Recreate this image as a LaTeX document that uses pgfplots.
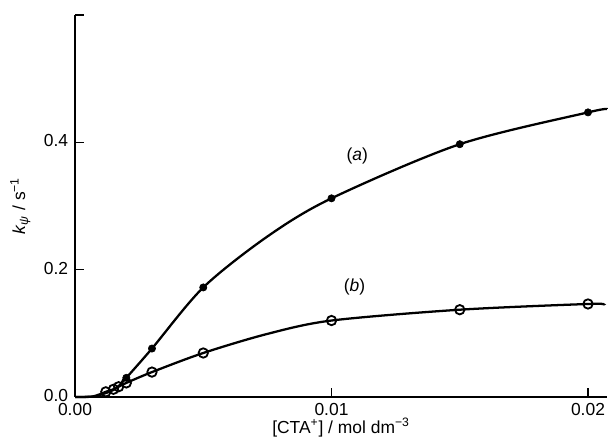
\documentclass[border=0pt]{standalone}
\usepackage{fontspec}
\setmainfont{Liberation Sans}
\usepackage{pgfplots}
\pgfplotsset{compat=1.18}
\begin{document}
\begin{tikzpicture}[x=1pt,y=1pt]
\begin{axis}[
  width=351pt, height=252pt, scale only axis,
  xmin=0, xmax=0.02074, ymin=0, ymax=0.6,
  axis x line*=bottom, axis y line*=left,
  axis line style={line width=1.1pt,-},
  tick align=inside, major tick length=6pt,
  tick style={line width=0.9pt,black},
  scaled x ticks=false, scaled y ticks=false,
  xtick={0,0.01,0.02}, xticklabels={0.00,0.01,0.02},
  ytick={0,0.2,0.4,0.6}, yticklabels={0.0,0.2,0.4,{}},
  /pgf/number format/assume math mode=true,
  ticklabel style={font=\fontsize{11.5}{13}\selectfont},
  label style={font=\fontsize{11.5}{13}\selectfont},
  xticklabel style={yshift=-0.5pt},
  yticklabel style={xshift=-1pt, yshift=1pt},
  xlabel={[CTA\textsuperscript{+}] / mol dm\textsuperscript{−3}},
  ylabel={\textit{k}\textsubscript{\textit{ψ}} / s\textsuperscript{−1}},
  xlabel style={yshift=5pt},
  ylabel style={yshift=2pt},
  clip=false,
]
% fitted curves
\addplot[black, line width=1.5pt, smooth, tension=0.5] coordinates {
 (0,0) (0.0007,0.0005) (0.0012,0.006) (0.0015,0.011) (0.0017,0.017) (0.002,0.030)
 (0.003,0.076) (0.005,0.172) (0.0075,0.252) (0.01,0.312) (0.015,0.397) (0.02,0.447) (0.02074,0.452)};
\addplot[black, line width=1.5pt, smooth, tension=0.5] coordinates {
 (0,0) (0.0007,0.0008) (0.0012,0.008) (0.0015,0.012) (0.0017,0.016) (0.002,0.022)
 (0.003,0.039) (0.005,0.069) (0.0075,0.099) (0.01,0.120) (0.015,0.137) (0.02,0.146) (0.0206,0.145)};
% data (a)
\addplot[only marks, mark=*, mark size=2.4pt, black] coordinates {
 (0.002,0.030) (0.003,0.076) (0.005,0.172) (0.01,0.312) (0.015,0.397) (0.02,0.447)};
% data (b)
\addplot[only marks, mark=o, mark size=3.1pt, black, line width=1.2pt, mark options={fill=white}] coordinates {
 (0.0012,0.008) (0.0015,0.012) (0.0017,0.016) (0.002,0.022) (0.003,0.039) (0.005,0.069) (0.01,0.120) (0.015,0.137) (0.02,0.146)};
\node[font=\fontsize{11.5}{13}\selectfont] at (axis cs:0.0110,0.378) {(\textit{a})};
\node[font=\fontsize{11.5}{13}\selectfont] at (axis cs:0.0109,0.173) {(\textit{b})};
\end{axis}
\path ([shift={(-49.5pt,-33.7pt)}]current axis.south west) rectangle ([shift={(2pt,9.9pt)}]current axis.north east);
\end{tikzpicture}
\end{document}
